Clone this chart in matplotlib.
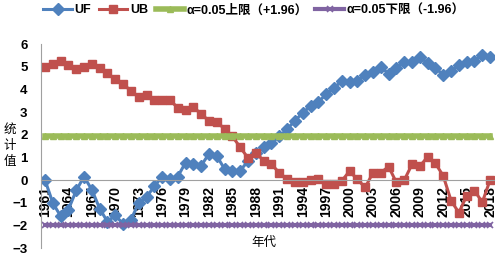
import matplotlib
matplotlib.use('Agg')
import matplotlib.pyplot as plt

plt.rcParams['font.family'] = ['Liberation Sans', 'Noto Sans CJK SC', 'DejaVu Sans']

# === 数据 ===
years = list(range(1961, 2019))
uf = [0.01, -1.0, -1.58, -1.29, -0.45, 0.16, -0.42, -1.25, -1.83, -1.54,
      -1.93, -1.75, -1.0, -0.74, -0.27, 0.16, 0.06, 0.16, 0.78, 0.71,
      0.64, 1.17, 1.07, 0.49, 0.42, 0.42, 0.85, 1.2, 1.46, 1.64,
      1.93, 2.25, 2.62, 2.97, 3.26, 3.45, 3.78, 4.07, 4.36, 4.32,
      4.35, 4.65, 4.75, 5.01, 4.68, 4.94, 5.19, 5.19, 5.43, 5.16,
      4.93, 4.65, 4.8, 5.07, 5.23, 5.26, 5.52, 5.43]
ub = [4.97, 5.14, 5.26, 5.09, 4.9, 5.0, 5.14, 4.94, 4.71, 4.45,
      4.25, 3.93, 3.67, 3.74, 3.55, 3.55, 3.52, 3.2, 3.09, 3.23,
      2.91, 2.62, 2.58, 2.25, 1.93, 1.45, 0.98, 1.22, 0.85, 0.7,
      0.33, 0.04, -0.1, -0.06, 0.0, 0.04, -0.15, -0.15, -0.03, 0.4,
      0.04, -0.32, 0.33, 0.33, 0.6, -0.1, 0.0, 0.7, 0.62, 1.03,
      0.74, 0.19, -0.9, -1.43, -0.68, -0.46, -0.97, 0.01]
upper = [1.96] * len(years)
lower = [-1.96] * len(years)
tick_years = list(range(1961, 2019, 3))

# === 绘图 ===
fig = plt.figure(figsize=(4.98, 2.56), dpi=100)
ax = fig.add_axes([0.0833, 0.03, 0.9087, 0.798])

ax.plot(years, uf, color='#4F81BD', lw=2.2, marker='D', ms=6.5, label='UF')
ax.plot(years, ub, color='#C0504D', lw=2.2, marker='s', ms=6, label='UB')
ax.plot(years, upper, color='#9BBB59', lw=4, marker='^', ms=5,
        label='α=0.05上限（+1.96）')
ax.plot(years, lower, color='#8064A2', lw=3, marker='x', ms=5, mew=1.2,
        label='α=0.05下限（-1.96）')

# 坐标轴在 y=0 处（先设位置，再设刻度，否则刻度样式会被重置）
for s in ['top', 'right']:
    ax.spines[s].set_visible(False)
ax.spines['bottom'].set_position(('data', 0))
ax.spines['bottom'].set_color('#A0A0A0')
ax.spines['left'].set_color('#A0A0A0')

ax.set_xlim(1960.55, 2018.5)
ax.set_ylim(-3, 6)
ax.set_yticks(range(-3, 7))
ax.set_xticks(tick_years)
ax.set_xticklabels([str(y) for y in tick_years], rotation=90, fontsize=10,
                   fontweight='bold', va='top')
ax.tick_params(axis='y', length=0, pad=10, labelsize=9.5)
ax.tick_params(axis='x', length=0, pad=4)
for lab in ax.get_yticklabels():
    lab.set_fontweight('bold')

fig.legend(loc='center', bbox_to_anchor=(0.51, 0.96), ncol=4, frameon=False,
           handlelength=2.3, columnspacing=0.6, handletextpad=0.2,
           prop={'size': 9, 'weight': 'bold'})

fig.text(0.02, 0.43, '统\n计\n值', fontsize=9, ha='center', va='center', linespacing=1.5)
fig.text(0.53, 0.05, '年代', fontsize=9, ha='center', va='center')

plt.savefig('out.png', dpi=100)
plt.close()
